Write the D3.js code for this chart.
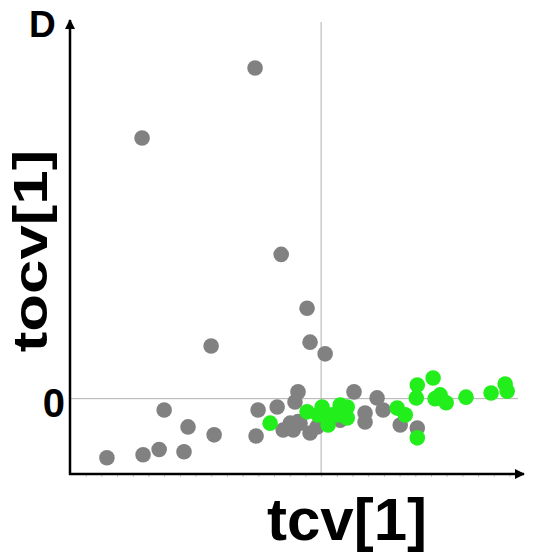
<!DOCTYPE html>
<html>
<head>
<meta charset="utf-8">
<script src="https://cdn.jsdelivr.net/npm/d3@7"></script>
<style>
	body { margin: 0; background: #fff; }
	text { font-family: "Liberation Sans", Arial, sans-serif; font-weight: bold; fill: #000; }
</style>
</head>
<body>
<svg id="chart" width="540" height="556"></svg>
<script>
// gray scores (tcv[1], tocv[1])
var grayX = [-0.263, -0.713, -0.159, -0.056, -0.438, -0.044, 0.016, -0.625, -0.530, -0.426, -0.853, -0.709, -0.645, -0.546,
	-0.259, -0.251, -0.175, -0.092, -0.104, -0.151, -0.111, -0.092, -0.044, -0.016, 0.131, 0.223, 0.175, 0.175, 0.247, 0.315, 0.383, 0.076,
	-0.123, -0.084];
var grayY = [0.878, 0.692, 0.383, 0.240, 0.140, 0.150, 0.119, -0.030, -0.075, -0.096, -0.157, -0.149, -0.135, -0.141,
	-0.099, -0.030, -0.022, 0.018, -0.009, -0.083, -0.083, -0.061, -0.091, -0.075, 0.018, 0.002, -0.038, -0.062, -0.030, -0.070, -0.078, -0.057,
	-0.065, -0.065];
// green scores
var greenX = [-0.203, -0.056, 0.004, 0.016, 0.028, 0.076, 0.104, 0.104, 0.303, 0.335, 0.383, 0.446, 0.379, 0.454,
	0.474, 0.498, 0.577, 0.677, 0.733, 0.741, 0.383, -0.012, 0.044, 0.068];
var greenY = [-0.065, -0.035, -0.022, -0.043, -0.070, -0.017, -0.022, -0.051, -0.025, -0.043, 0.036, 0.055, 0.002, 0.000,
	0.010, -0.011, 0.004, 0.015, 0.039, 0.020, -0.104, -0.043, -0.043, -0.043];
var xDomain = [-1, 0.8], yDomain = [-0.2, 1];

var svg = d3.select('#chart');
var plotL = 70, plotR = 522, plotT = 22, plotB = 474;
var x = d3.scaleLinear().domain(xDomain).range([plotL, plotR]);
var y = d3.scaleLinear().domain(yDomain).range([plotB, plotT]);

// zero lines
svg.append('line').attr('x1', x(0)).attr('x2', x(0)).attr('y1', plotT).attr('y2', plotB)
	.attr('stroke', '#b0b0b0').attr('stroke-width', 1);
svg.append('line').attr('x1', plotL).attr('x2', plotR - 4).attr('y1', y(0)).attr('y2', y(0))
	.attr('stroke', '#b0b0b0').attr('stroke-width', 1);

// faint minor ticks under x axis
svg.append('g').attr('transform', 'translate(0,' + plotB + ')')
	.call(d3.axisBottom(x).tickValues(d3.range(-0.9375, 0.78, 0.0625)).tickSize(3).tickFormat(''))
	.call(function(g) {
		g.select('.domain').remove();
		g.selectAll('line').attr('stroke', '#c8c8c8');
	});

// points
function dots(xs, ys, color) {
	svg.append('g').selectAll('circle')
		.data(xs.map(function(d, i) { return [d, ys[i]]; }))
		.enter().append('circle')
		.attr('cx', function(d) { return x(d[0]); })
		.attr('cy', function(d) { return y(d[1]); })
		.attr('r', 7.8)
		.attr('fill', color);
}
dots(grayX, grayY, '#818181');
dots(greenX, greenY, '#22ee1c');

// axes with arrows
svg.append('defs').append('marker')
	.attr('id', 'arrow').attr('viewBox', '0 0 10 10').attr('refX', 9).attr('refY', 5)
	.attr('markerWidth', 4).attr('markerHeight', 4).attr('orient', 'auto')
	.append('path').attr('d', 'M0,0L10,5L0,10z').attr('fill', '#000');
svg.append('line').attr('x1', plotL).attr('x2', plotL).attr('y1', plotB + 1).attr('y2', plotT - 2)
	.attr('stroke', '#000').attr('stroke-width', 2.5).attr('marker-end', 'url(#arrow)');
svg.append('line').attr('x1', plotL - 1).attr('x2', plotR + 2).attr('y1', plotB).attr('y2', plotB)
	.attr('stroke', '#000').attr('stroke-width', 2.5).attr('marker-end', 'url(#arrow)');

// texts
svg.append('text').attr('x', 29).attr('y', 37).style('font-size', '37px').text('D');
svg.append('text').attr('x', 65).attr('y', y(0) + 18).attr('text-anchor', 'end')
	.style('font-size', '40px').text('0');
svg.append('text').attr('transform', 'translate(47,251) rotate(-90) scale(1.03,0.8)').attr('text-anchor', 'middle')
	.style('font-size', '60px').text('tocv[1]');
svg.append('text').attr('x', 347).attr('y', 540).attr('text-anchor', 'middle')
	.style('font-size', '60px').text('tcv[1]');
</script>
</body>
</html>
